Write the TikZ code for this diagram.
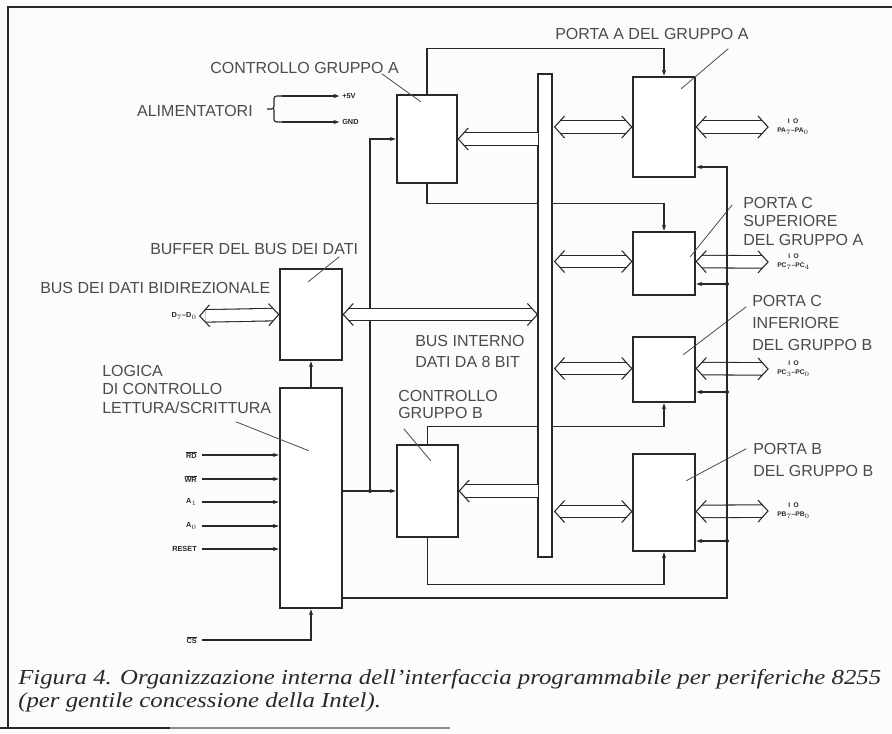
\documentclass[tikz,border=0pt]{standalone}
\usepackage{fontspec}
\setmainfont{Liberation Serif}
\setsansfont{Liberation Sans}
\usepackage{graphicx}
\usepackage{tikz}
\usetikzlibrary{arrows.meta,positioning,fit,calc,decorations.markings}

\definecolor{inkdark}{RGB}{40,40,40}
\definecolor{inkgray}{RGB}{75,75,75}
\definecolor{paper}{RGB}{252,252,250}

\newcommand{\barsig}[1]{\ensuremath{\overline{\mbox{#1}}}}
% open chevron head of the wide bus arrows, drawn in pgf so that the
% double line of the carrying path does not leak into it
\newcommand{\chevron}[1]{%
  \pgfsetlinewidth{0.8pt}\pgfsetstrokecolor{inkdark}\pgfsetmiterjoin
  \pgfsetarrows{-}\pgfsetshortenstart{0pt}\pgfsetshortenend{0pt}%
  \pgfpathmoveto{\pgfpoint{#1 7.5pt}{8.25pt}}%
  \pgfpathlineto{\pgfpointorigin}%
  \pgfpathlineto{\pgfpoint{#1 7.5pt}{-8.25pt}}%
  \pgfusepath{stroke}}

\tikzset{
  blockbox/.style={rectangle,draw=inkdark,line width=1.9pt,fill=white,inner sep=0pt},
  busbar/.style={rectangle,draw=inkdark,line width=0.9pt,fill=white,inner sep=0pt},
  ctrlline/.style={draw=inkdark,line width=0.9pt},
  ctrlarrow/.style={ctrlline,-{Stealth[length=4.5pt,width=3.2pt]}},
  busarrow/.style={draw=inkdark,line width=0.8pt,double=white,double distance=8.6pt},
  wstart/.style={shorten <=4.4pt,postaction={decorate,decoration={markings,
    mark=at position 0 with {\chevron{}}}}},
  wend/.style={shorten >=4.4pt,postaction={decorate,decoration={markings,
    mark=at position 1 with {\chevron{-}}}}},
  leader/.style={draw=inkgray,line width=0.6pt},
  partlabel/.style={font=\sffamily\fontsize{12}{#1}\selectfont,text=inkgray,
    align=left,inner sep=0pt},
  partlabel/.default=14,
  pinlabel/.style={font=\sffamily\bfseries\fontsize{5.5}{6}\selectfont,
    text=inkdark,inner sep=0pt},
  iolabel/.style={pinlabel,align=center,font=\sffamily\bfseries\fontsize{5}{6.5}\selectfont},
  junction/.style={circle,fill=inkdark,inner sep=0pt,minimum size=3pt},
  caption/.style={font=\itshape\fontsize{16}{20}\selectfont,text=inkdark,inner sep=0pt},
}

\begin{document}
\begin{tikzpicture}[x=0.75pt,y=-0.75pt]
\useasboundingbox[fill=paper] (0,0) rectangle (892,734);

%% ── frame ────────────────────────────────────────────────────────────────
\draw[inkdark,line width=1.6pt] (8,728) -- (8,7) -- (892,7);
\draw[inkdark,line width=1.6pt] (0,728) -- (170,728);
\draw[inkdark!55,line width=0.8pt] (170,728) -- (450,728);

%% ── blocks ───────────────────────────────────────────────────────────────
\node[blockbox,fit={(397,95)(457,183)}]  (ctla)  {};
\node[blockbox,fit={(633,77)(695,177)}]  (porta) {};
\node[blockbox,fit={(633,232)(695,295)}] (pcsup) {};
\node[blockbox,fit={(633,337)(695,402)}] (pcinf) {};
\node[blockbox,fit={(633,454)(695,551)}] (portb) {};
\node[blockbox,fit={(280,269)(342,360)}] (buff)  {};
\node[blockbox,fit={(280,388)(342,608)}] (logic) {};
\node[blockbox,fit={(397,445)(458,537)}] (ctlb)  {};

%% ── labels ───────────────────────────────────────────────────────────────
\node[partlabel,anchor=north west] (lctla) at (210,62) {CONTROLLO GRUPPO A};
\node[partlabel,anchor=north east] (lalim) at (253,105) {ALIMENTATORI};
\node[partlabel,anchor=north west] (lporta) at (555,28) {PORTA A DEL GRUPPO A};
\node[partlabel,anchor=north west] (lbuff) at (150,243) {BUFFER DEL BUS DEI DATI};
\node[partlabel,anchor=north west] (lbusext) at (40,282) {BUS DEI DATI BIDIREZIONALE};
\node[partlabel=13.9,anchor=north west] (llogic) at (102,365)
  {LOGICA\\DI CONTROLLO\\LETTURA/SCRITTURA};
\node[partlabel=15.75,anchor=north west] (libus) at (415,335)
  {BUS INTERNO\\DATI DA 8 BIT};
\node[partlabel=12.75,anchor=north west] (lctlb) at (398,390)
  {CONTROLLO\\GRUPPO B};
\node[partlabel=13.9,anchor=north west] (lpcsup) at (743,197)
  {PORTA C\\SUPERIORE\\DEL GRUPPO A};
\node[partlabel=16.5,anchor=north west] (lpcinf) at (752,295)
  {PORTA C\\INFERIORE\\DEL GRUPPO B};
\node[partlabel=16.5,anchor=north west] (lportb) at (753,443)
  {PORTA B\\DEL GRUPPO B};

% leaders from the labels into the blocks
\draw[leader] (ctla.north west) ++(-14,-20) -- ++(39,28);
\draw[leader] (porta.north east) ++(32,-27) -- ++(-47,40);
\draw[leader] (pcsup.north east) ++(36,-26) -- ++(-42,52);
\draw[leader] (pcinf.north east) ++(50,-29) -- ++(-63,48);
\draw[leader] (portb.north east) ++(50,-4) -- ++(-60,32);
\draw[leader] (buff.north east) ++(-4,-11) -- ++(-31,25);
\draw[leader] (logic.north west) ++(-43,35) -- ++(73,29);
\draw[leader] (ctlb.north west) ++(8,-15) -- ++(27,32);

%% ── supply ───────────────────────────────────────────────────────────────
\coordinate (p5v) at (282,96);
\coordinate (pgnd) at (282,122);
\node[pinlabel,anchor=west] (l5v) at (342,96) {+5V};
\node[pinlabel,anchor=west] (lgnd) at (342,122) {GND};
\draw[ctrlarrow] (p5v) -- ([xshift=-2pt]l5v.west);
\draw[ctrlarrow] (pgnd) -- ([xshift=-2pt]lgnd.west);
\draw[ctrlline,rounded corners=2pt] (p5v) -- ++(-8,0) -- ++(0,13) -- ++(-7,0)
  ++(7,0) -- ++(0,13) -- ++(8,0);

%% ── control lines ────────────────────────────────────────────────────────
\draw[ctrlarrow] (ctla.north) -- ++(0,-45) -| (porta.north);
\draw[ctrlarrow] (ctla.south) -- ++(0,19) -| (pcsup.north);
\draw[ctrlarrow] (ctlb.north) -- ++(0,-17) -| (pcinf.south);
\draw[ctrlarrow] (ctlb.south) -- ++(0,46) -| (portb.south);
\draw[ctrlarrow] (logic.north) -- (buff.south);
\draw[ctrlarrow] (logic.east |- ctlb.west) -- (ctlb.west);
\node[junction] (jctl) at (370,491) {};
\draw[ctrlarrow] (jctl.center) |- (ctla.west);

% read/write inputs
\node[pinlabel,anchor=east] (srd) at (197,455) {\barsig{RD}};
\node[pinlabel,anchor=east] (swr) at (197,479) {\barsig{WR}};
\node[pinlabel,anchor=east] (sa1) at (197,502) {A$_1$};
\node[pinlabel,anchor=east] (sa0) at (197,526) {A$_0$};
\node[pinlabel,anchor=east] (srst) at (197,549) {RESET};
\node[pinlabel,anchor=east] (scs) at (197,640) {\barsig{CS}};
\draw[ctrlarrow] ([xshift=3.75pt]srd.east) -- (srd.east -| logic.west);
\draw[ctrlarrow] ([xshift=3.75pt]swr.east) -- (swr.east -| logic.west);
\draw[ctrlarrow] ([xshift=3.75pt]sa1.east) -- (sa1.east -| logic.west);
\draw[ctrlarrow] ([xshift=3.75pt]sa0.east) -- (sa0.east -| logic.west);
\draw[ctrlarrow] ([xshift=3.75pt]srst.east) -- (srst.east -| logic.west);
\draw[ctrlarrow] ([xshift=3.75pt]scs.east) -| (logic.south);

%% ── internal bus ─────────────────────────────────────────────────────────
\node[busbar,fit={(538,74)(552,557)}] (ibus) {};

\draw[busarrow,wend] ($(ibus.west |- ctla.east)+(1,0)$) -- (ctla.east);
\draw[busarrow,wend] ($(ibus.west |- ctlb.east)+(1,0)$) -- (ctlb.east);
\draw[busarrow,wstart,wend] (buff.east) -- (ibus.west |- buff.east);

\node[pinlabel,anchor=east] (dext) at (197,316) {D$_7$--D$_0$};
\draw[busarrow,wstart,wend] ([xshift=2pt]dext.east) -- (buff.west);

\draw[busarrow,wstart,wend] ($(ibus.east |- porta.west)+(2,0)$) -- (porta.west);
\draw[busarrow,wstart,wend] ($(ibus.east |- pcsup.west)+(2,-2)$) -- ($(pcsup.west)+(0,-2)$);
\draw[busarrow,wstart,wend] ($(ibus.east |- pcinf.west)+(2,-1)$) -- ($(pcinf.west)+(0,-1)$);
\draw[busarrow,wstart,wend] ($(ibus.east |- portb.west)+(2,9)$) -- ($(portb.west)+(0,9)$);

%% ── port I/O ─────────────────────────────────────────────────────────────
\node[iolabel,anchor=west] (ioa) at (777,127) {I\enspace O\\PA$_7$--PA$_0$};
\node[iolabel,anchor=west] (iocs) at (777,262) {I\enspace O\\PC$_7$--PC$_4$};
\node[iolabel,anchor=west] (ioci) at (777,369) {I\enspace O\\PC$_3$--PC$_0$};
\node[iolabel,anchor=west] (iob) at (777,511) {I\enspace O\\PB$_7$--PB$_0$};
\draw[busarrow,wstart,wend] (porta.east) -- ($(ioa.west |- porta.east)+(-9,0)$);
\draw[busarrow,wstart,wend] ($(pcsup.east)+(0,-2)$) -- ($(iocs.west)+(-9,0)$);
\draw[busarrow,wstart,wend] ($(pcinf.east)+(0,-1)$) -- ($(ioci.west)+(-9,0)$);
\draw[busarrow,wstart,wend] ($(portb.east)+(0,9)$) -- ($(iob.west)+(-9,0)$);

% common line back from the read/write logic to every port
\coordinate (rbot) at (727,598);
\coordinate (rtop) at (727,167);
\draw[ctrlarrow] (logic.east |- rbot) -- (rbot) -- (rtop) -- (porta.east |- rtop);
\node[junction] (jpc1) at (727,284) {};
\node[junction] (jpc2) at (727,392) {};
\node[junction] (jpb) at (727,541) {};
\draw[ctrlarrow] (jpc1.center) -- (pcsup.east |- jpc1.center);
\draw[ctrlarrow] (jpc2.center) -- (pcinf.east |- jpc2.center);
\draw[ctrlarrow] (jpb.center) -- (portb.east |- jpb.center);

%% ── caption ──────────────────────────────────────────────────────────────
\node[caption,anchor=base west] (capa) at (18,684) {\scalebox{1.162}[1]{Figura 4.
  Organizzazione interna dell'interfaccia programmabile per periferiche 8255}};
\node[caption,anchor=base west] (capb) at (18,707)
  {\scalebox{1.162}[1]{(per gentile concessione della Intel).}};

\end{tikzpicture}
\end{document}
